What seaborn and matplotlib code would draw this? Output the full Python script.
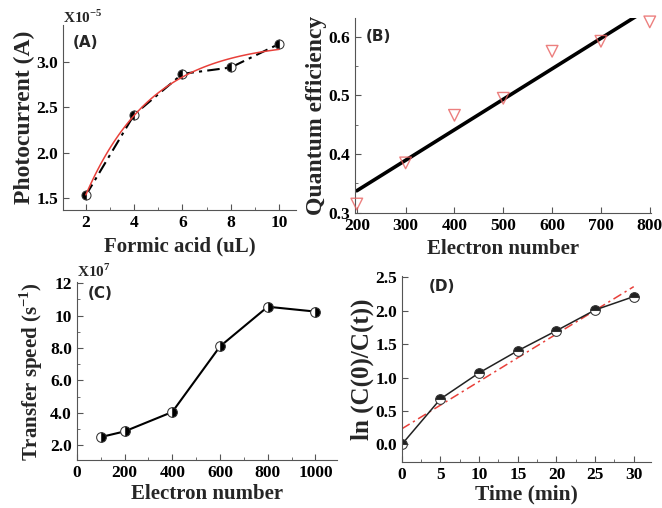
import seaborn as sns
import matplotlib.pyplot as plt
from matplotlib.ticker import MultipleLocator, FixedLocator
import pandas as pd
import numpy as np

# data
acid_ul = [2, 4, 6, 8, 10]
photocurrent = [1.53, 2.42, 2.87, 2.94, 3.20]

electrons_b = [200, 300, 400, 500, 600, 700, 800]
quantum_eff = [0.315, 0.385, 0.466, 0.495, 0.575, 0.592, 0.625]

electrons_c = [100, 200, 400, 600, 800, 1000]
transfer_speed = [2.5, 2.85, 4.05, 8.1, 10.55, 10.25]

time_min = [0, 5, 10, 15, 20, 25, 30]
ln_ratio = [0.0, 0.68, 1.07, 1.40, 1.70, 2.01, 2.21]

sns.set_style('ticks')
plt.rcParams['font.family'] = ['Liberation Serif', 'DejaVu Serif']
plt.rcParams['font.weight'] = 'bold'
plt.rcParams['axes.labelweight'] = 'bold'
plt.rcParams['xtick.direction'] = 'in'
plt.rcParams['ytick.direction'] = 'in'
plt.rcParams['axes.edgecolor'] = '#555555'
plt.rcParams['mathtext.fontset'] = 'custom'
plt.rcParams['mathtext.rm'] = 'Liberation Serif:bold'
plt.rcParams['mathtext.bf'] = 'Liberation Serif:bold'

label_size = 15
tick_size = 12.5
grey = '#555555'

fig = plt.figure(figsize=(6.62, 5.08), dpi=100)
axA = fig.add_axes([0.095, 0.587, 0.352, 0.364])
axB = fig.add_axes([0.536, 0.581, 0.447, 0.384])
axC = fig.add_axes([0.116, 0.094, 0.393, 0.350])
axD = fig.add_axes([0.607, 0.091, 0.376, 0.366])


def style(ax):
    sns.despine(ax=ax)
    ax.tick_params(which='both', colors=grey, labelcolor='black', labelsize=tick_size)
    ax.tick_params(which='major', length=4)
    ax.tick_params(which='minor', length=2.5)


def panel_tag(ax, txt, x, y):
    ax.text(x, y, txt, transform=ax.transAxes, fontsize=11, fontweight='bold',
            family='DejaVu Sans', ha='center', va='center')


# (A) photocurrent vs formic acid, with exponential saturation fit
dfA = pd.DataFrame({'x': acid_ul, 'y': photocurrent})
xa = np.array(acid_ul, float)
ya = np.array(photocurrent, float)
best = None
for k in np.linspace(0.05, 1.5, 600):
    M = np.column_stack([np.ones_like(xa), np.exp(-k * xa)])
    coef, res, *_ = np.linalg.lstsq(M, ya, rcond=None)
    err = np.sum((M @ coef - ya) ** 2)
    if best is None or err < best[0]:
        best = (err, k, coef)
_, kfit, cfit = best
xf = np.linspace(2, 10, 100)
fitA = pd.DataFrame({'x': xf, 'y': cfit[0] + cfit[1] * np.exp(-kfit * xf)})
sns.lineplot(data=dfA, x='x', y='y', ax=axA, color='black', lw=1.5,
             linestyle=(0, (6, 2.5, 1.5, 2.5)), marker='o', markersize=6.5,
             fillstyle='left', markerfacecoloralt='white', markeredgecolor='#333333')
sns.lineplot(data=fitA, x='x', y='y', ax=axA, color='#e8403a', lw=1.1)
axA.set_xlim(1.05, 10.7)
axA.set_ylim(1.37, 3.41)
axA.set_xticks([2, 4, 6, 8, 10])
axA.xaxis.set_minor_locator(FixedLocator([3, 5, 7, 9]))
axA.set_yticks([1.5, 2.0, 2.5, 3.0])
axA.set_xlabel('Formic acid (uL)', fontsize=label_size, labelpad=4)
axA.set_ylabel('Photocurrent (A)', fontsize=17, labelpad=1)
style(axA)
panel_tag(axA, '(A)', 0.095, 0.905)
axA.text(0.085, 1.04, r'X10$^{-5}$', transform=axA.transAxes, fontsize=11,
         ha='center', va='center')

# (B) quantum efficiency vs electron number, linear fit
dfB = pd.DataFrame({'x': electrons_b, 'y': quantum_eff})
sns.regplot(data=dfB, x='x', y='y', ax=axB, ci=None, truncate=True,
            marker='v',
            scatter_kws={'s': 70, 'facecolors': 'none', 'edgecolors': '#e8605f',
                         'linewidths': 1.0, 'zorder': 3, 'clip_on': False},
            line_kws={'color': 'black', 'lw': 2.6})
axB.set_xlim(196, 802)
axB.set_ylim(0.3, 0.632)
axB.set_xticks(range(200, 801, 100))
axB.set_yticks([0.3, 0.4, 0.5, 0.6])
axB.yaxis.set_minor_locator(MultipleLocator(0.05))
axB.set_xlabel('Electron number', fontsize=label_size, labelpad=4)
axB.set_ylabel('Quantum efficiency', fontsize=17, labelpad=1)
style(axB)
panel_tag(axB, '(B)', 0.08, 0.905)

# (C) transfer speed vs electron number
dfC = pd.DataFrame({'x': electrons_c, 'y': transfer_speed})
sns.lineplot(data=dfC, x='x', y='y', ax=axC, color='black', lw=1.5,
             marker='o', markersize=7, fillstyle='right',
             markerfacecoloralt='white', markeredgecolor='#333333')
axC.set_xlim(0, 1090)
axC.set_ylim(1.07, 12.05)
axC.set_xticks([0, 200, 400, 600, 800, 1000])
axC.xaxis.set_minor_locator(MultipleLocator(100))
axC.set_yticks([2, 4, 6, 8, 10, 12])
axC.set_yticklabels(['2.0', '4.0', '6.0', '8.0', '10', '12'])
axC.yaxis.set_minor_locator(MultipleLocator(1))
axC.set_xlabel('Electron number', fontsize=label_size, labelpad=2)
axC.set_ylabel(r'Transfer speed (s$^{-1}$)', fontsize=label_size, labelpad=4)
style(axC)
panel_tag(axC, '(C)', 0.09, 0.94)
axC.text(0.065, 1.06, r'X10$^{7}$', transform=axC.transAxes, fontsize=11,
         ha='center', va='center')

# (D) ln(C0/Ct) vs time, linear fit
dfD = pd.DataFrame({'x': time_min, 'y': ln_ratio})
sns.regplot(data=dfD, x='x', y='y', ax=axD, ci=None, truncate=True, scatter=False,
            line_kws={'color': '#e8403a', 'lw': 1.1,
                      'linestyle': (0, (6, 2.5, 1.5, 2.5))})
sns.lineplot(data=dfD, x='x', y='y', ax=axD, color='#222222', lw=1.1,
             marker='o', markersize=7, fillstyle='top',
             markerfacecoloralt='white', markeredgecolor='#333333')
axD.set_xlim(0, 32.2)
axD.set_ylim(-0.26, 2.52)
axD.set_xticks([0, 5, 10, 15, 20, 25, 30])
axD.xaxis.set_minor_locator(MultipleLocator(2.5))
axD.set_yticks([0.0, 0.5, 1.0, 1.5, 2.0, 2.5])
axD.set_xlabel('Time (min)', fontsize=15.5, labelpad=1)
axD.set_ylabel('ln (C(0)/C(t))', fontsize=18, labelpad=1)
style(axD)
panel_tag(axD, '(D)', 0.16, 0.94)

fig.savefig('out.png', dpi=100)
